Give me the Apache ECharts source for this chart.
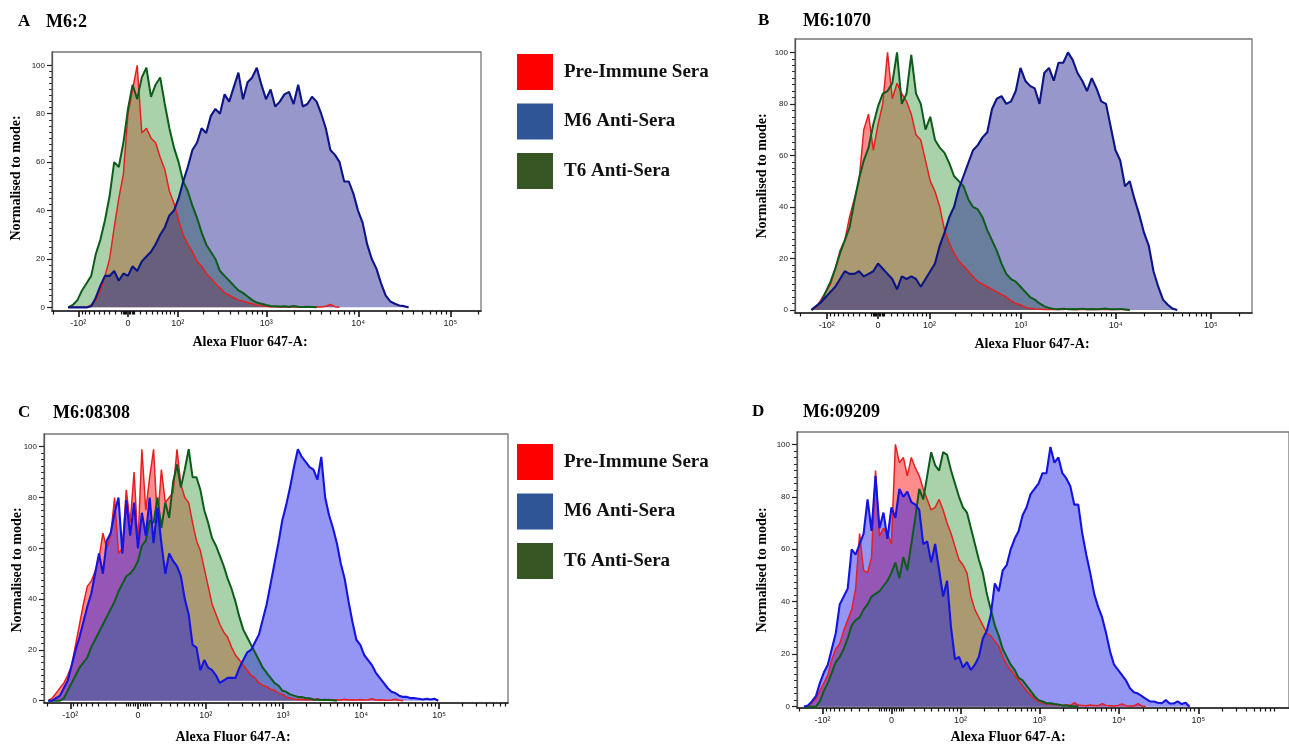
<!DOCTYPE html>
<html><head><meta charset="utf-8">
<script src="https://cdn.jsdelivr.net/npm/echarts@6/dist/echarts.min.js"></script>
<style>html,body{margin:0;padding:0;background:#fff}#chart{width:1289px;height:746px}</style>
</head><body><div id="chart"></div>
<script>
// ---------- data ----------
const SERIES_NAMES = ['Pre-Immune Sera', 'M6 Anti-Sera', 'T6 Anti-Sera'];
const PANEL_LETTERS = ['A', 'B', 'C', 'D'];
const PANEL_TITLES = ['M6:2', 'M6:1070', 'M6:08308', 'M6:09209'];
const X_AXIS_TITLE = 'Alexa Fluor 647-A:';
const Y_AXIS_TITLE = 'Normalised to mode:';
const X_TICK_VALUES = [-100, 0, 100, 1000, 10000, 100000];
const X_TICK_LABELS = ['-10²', '0', '10²', '10³', '10⁴', '10⁵'];
const Y_TICK_VALUES = [0, 20, 40, 60, 80, 100];
// biexponential display width per panel; histogram bins are equally spaced on that display scale
const BIEX_WIDTH = [62.8, 62.8, 27.6, 27.6];
const BIN_STEP = 0.05;
const BIN_START = [-0.65, -0.7, -1.15, -1.1];

const A_PRE = [0,0,0,0,0,1,3,7,13,20,33,45,55,80,90,100,72,74,70,68,62,57,48,43,36,30,26,23,19,17,14,12,10,8,6,5,4,3,2.5,2,1.5,1,0.8,0.5,0.3,0.4,0.2,0.3,0.2,0.3,0.2,0.3,0.2,0.2,0.3,0.2,0.5,1.2,0.3,0];
const A_M6  = [0,0,0,0,0,0.5,4,9,13,13,15,11,14,13,17,15,19,21,23,26,30,33,38,40,45,52,58,65,68,74,72,79,82,80,88,85,91,97,86,93,95,99,92,86,90,83,85,88,89,84,92,83,84,87,85,80,74,65,63,60,52,52,47,40,35,26,20,16,10,5,2.5,1.5,0.8,0.5,0];
const A_T6  = [0,1,3,7,10,13,22,28,36,46,60,58,68,82,92,86,95,99,87,92,95,84,74,66,60,52,48,42,37,31,26,23,20,15,13,11,9,7,6,4.5,3,2,1.5,1,0.6,0.5,0.4,0.5,0.3,0.6,0.3,0.2,0.3,0.2,0];

const B_PRE = [0,1,4,7,10,16,23,27,36,43,50,70,76,62,72,80,100,82,88,84,81,76,68,66,58,50,46,40,31,26,22,19,17,15,13,11,10,9,8,7,6,5,3.5,2.5,2,1,0.6,0.4,0.3,0.2,0.3,0.2,0.3,0.2,0.4,0.2,0.3,0.2,0.2,0.3,0.2,0.2,0.3,0.2,0.2,0.3,0.2,0];
const B_M6  = [0,1.5,3,5,7,9,12,15,14,14,15,13,14,15,18,16,14,12,8,13,12,13,12,9,12,15,18,25,30,36,40,47,52,57,62,64,67,69,78,82,83,80,81,85,94,89,87,86,80,92,94,89,96,96,100,97,92,89,85,90,86,81,80,71,62,58,48,50,43,37,30,25,15,9,4,2,0.5,0];
const B_T6  = [0,1.5,3,7,11,16,22,27,32,42,51,58,63,72,79,84,85,88,100,80,84,99,84,80,70,75,66,63,61,57,52,50,48,43,40,39,36,31,27,23,18,14,12,11,9,7,5,4,2.5,1.5,0.7,0.4,0.3,0.5,0.3,0.4,0.3,0.5,0.3,0.4,0.3,0.4,0.5,0.3,0.3,0.4,0.2,0];

const C_PRE = [0,1,3,5,7,10,14,22,30,38,45,47,51,56,66,60,65,80,58,60,83,70,90,62,99,75,88,99,70,91,78,80,82,99,85,80,78,70,63,59,52,45,38,34,30,27,25,21,18,16,14,12,10,9,7,6,5.5,4.5,4,3,2.5,1.5,1,0.7,0.5,0.6,0.4,0.5,0.3,0.8,0.4,0.3,0.5,0.3,0.4,0.3,0.6,0.3,0.4,0.3,0.5,0.3,0.4,0.8,0.3,0.4,0.3,0.2,0.3,0.6,0.2,0];
const C_M6  = [0,0,1,2,5,8,14,20,25,31,37,42,50,58,50,63,66,74,80,58,79,65,78,60,74,65,80,62,76,62,50,58,55,53,49,40,34,22,21,12,16,13,12,10,7,8,9,9,9,13,16,19,20,23,26,32,38,46,54,62,71,77,84,92,99,96,94,92,91,87,96,80,73,68,62,54,48,39,31,24,22,18,16,14,11,9,7,5,3.5,3,2,1.5,1.5,1,1,0.8,0.5,0.8,0.5,0.8,0];
const C_T6  = [0,0,0,0,1,4,7,10,13,15,17,21,24,27,30,33,36,39,43,46,49,50,52,55,61,63,71,70,80,68,78,72,86,93,84,91,99,88,88,83,75,70,64,61,57,53,48,44,39,33,28,25,22,19,16,13,11,9,7,6,4,3.5,2.5,2,1.5,1.5,1,1,0.5,0.4,0.3,0.4,0.3,0.2,0];

const D_PRE = [0,0,1.5,3,6,9,12,18,22,24,29,33,37,45,66,52,51,57,90,65,68,66,62,100,93,95,88,95,91,88,83,79,75,76,79,75,70,66,61,56,54,51,42,37,34,31,28,27,25,23,19,16,14,12,10,8,6,4.5,3,2,1.5,1,1,0.8,0.6,0.5,0.7,0.5,1.5,0.6,0.5,0.4,0.6,0.5,0.4,1.2,0.5,0.4,0.3,0.5,1,0.4,0.3,0.3,1.2,0.3,0];
const D_M6  = [0,0.5,2,4,9,13,16,22,28,39,42,45,60,58,62,66,79,67,88,68,74,64,76,72,83,80,82,78,77,75,62,63,55,62,52,42,48,30,18,19,15,17,14,16,19,26,29,35,47,44,52,54,60,64,67,73,76,81,83,85,89,89,99,93,95,89,87,84,77,77,66,58,51,43,38,34,28,21,16,14,12,10,7,5.5,5,4,3,2,2,1.5,1.3,2.5,1.2,1.2,2,1,1.5,0];
const D_T6  = [0,0,0,0,2,6,9,13,17,19,22,26,31,33,34,37,39,42,43,44,46,48,51,55,49,57,52,62,72,83,79,88,97,92,90,97,96,90,85,80,76,74,68,62,56,51,43,37,31,27,22,19,16,14,11,10,8,6,4,2.5,2,1.3,1.3,1,0.8,0.5,0.5,0.3,0.2,0];

const PANEL_DATA = [
  [A_PRE, A_M6, A_T6],
  [B_PRE, B_M6, B_T6],
  [C_PRE, C_M6, C_T6],
  [D_PRE, D_M6, D_T6]
];

// ---------- layout & style ----------
const LAYOUT = [
  {left: 52,  top: 52,  width: 429, height: 259, xMin: -0.826, xMax: 3.837, yMin: -1.5, yMax: 105.5,
   letter: [18, 22], title: [46, 22], xName: [250, 342], yName: [16, 178]},
  {left: 795, top: 39,  width: 457, height: 274, xMin: -0.874, xMax: 3.937, yMin: -1.2, yMax: 105.2,
   letter: [758, 21], title: [803, 21], xName: [1032, 344], yName: [762, 176]},
  {left: 44,  top: 434, width: 464, height: 269, xMin: -1.205, xMax: 4.744, yMin: -0.9, yMax: 105.0,
   letter: [18, 413], title: [53, 413], xName: [233, 737], yName: [17, 570]},
  {left: 797, top: 432, width: 495, height: 276, xMin: -1.1875, xMax: 5.0, yMin: -0.5, yMax: 104.7,
   letter: [752, 412], title: [803, 412], xName: [1008, 737], yName: [762, 570]}
];
const LEGEND_POS = [[517, 54], [517, 444]];
const LEGEND_COLORS = ['#ff0000', '#2f5597', '#375623'];

const FILL = {
  pre: 'rgba(255,0,0,0.45)',
  t6: 'rgba(85,165,85,0.5)',
  m6: ['rgba(25,25,140,0.45)', 'rgba(25,25,140,0.45)', 'rgba(20,20,230,0.45)', 'rgba(20,20,230,0.45)']
};
const LINE = {
  pre: '#e62020', t6: '#0d5c1d',
  m6: ['#0c1585', '#0c1585', '#1414e0', '#1414e0']
};

function biex(v, w) { return Math.asinh(v / w) / Math.LN10; }

function minorValues() {
  const vals = [];
  [-1, 1].forEach(s => {
    for (let m = 2; m <= 8; m += 2) vals.push(s * m);
    for (let m = 10; m < 100; m += 10) vals.push(s * m);
  });
  vals.push(-200);
  for (let d = 100; d <= 100000; d *= 10) for (let m = 2; m <= 9; m++) vals.push(m * d);
  return vals;
}

const SERIF = '"Liberation Serif", "Times New Roman", serif';
const SANS = '"Liberation Sans", "DejaVu Sans", Arial, sans-serif';

const grids = [], xAxes = [], yAxes = [], series = [], graphics = [];

LAYOUT.forEach((L, p) => {
  const w = BIEX_WIDTH[p];
  grids.push({left: L.left, top: L.top, width: L.width, height: L.height, show: true,
    borderColor: '#777', borderWidth: 1.3, containLabel: false});
  const inX = t => t >= L.xMin && t <= L.xMax;
  const majorT = X_TICK_VALUES.map(v => biex(v, w));
  const minorT = minorValues().map(v => biex(v, w)).filter(inX);
  xAxes.push({
    type: 'value', gridIndex: p, position: 'bottom', min: L.xMin, max: L.xMax,
    axisLine: {show: true, onZero: false, lineStyle: {color: '#222', width: 1.6}},
    splitLine: {show: false},
    axisTick: {show: true, customValues: majorT.filter(inX), length: 6, lineStyle: {color: '#111', width: 1.6}},
    axisLabel: {show: true, customValues: majorT.filter(inX), margin: 8, fontSize: 9, color: '#222', fontFamily: SANS,
      formatter: val => {
        let best = 0, bd = Infinity;
        majorT.forEach((t, i) => { const d = Math.abs(t - val); if (d < bd) { bd = d; best = i; } });
        return X_TICK_LABELS[best];
      }}
  });
  xAxes.push({
    type: 'value', gridIndex: p, position: 'bottom', offset: 0, min: L.xMin, max: L.xMax,
    axisLine: {show: false, onZero: false}, splitLine: {show: false}, axisLabel: {show: false},
    axisTick: {show: true, customValues: minorT, length: 3.5, lineStyle: {color: '#111', width: 1.2}}
  });
  const inY = v => v >= L.yMin && v <= L.yMax;
  yAxes.push({
    type: 'value', gridIndex: p, position: 'left', min: L.yMin, max: L.yMax,
    axisLine: {show: true, onZero: false, lineStyle: {color: '#555', width: 1.3}},
    splitLine: {show: false},
    axisTick: {show: true, customValues: Y_TICK_VALUES, length: 5, lineStyle: {color: '#222', width: 1.2}},
    axisLabel: {show: true, customValues: Y_TICK_VALUES, margin: 7, fontSize: 8, color: '#222', fontFamily: SANS}
  });
  const yMinor = [];
  for (let v = 2.5; v < 100; v += 2.5) if (v % 20 !== 0 && inY(v)) yMinor.push(v);
  yAxes.push({
    type: 'value', gridIndex: p, position: 'left', offset: 0, min: L.yMin, max: L.yMax,
    axisLine: {show: false, onZero: false}, splitLine: {show: false}, axisLabel: {show: false},
    axisTick: {show: true, customValues: yMinor, length: 3, lineStyle: {color: '#333', width: 1}}
  });

  const [pre, m6, t6] = PANEL_DATA[p];
  const pts = arr => arr.map((v, i) => [BIN_START[p] + i * BIN_STEP, v]);
  const common = {type: 'line', xAxisIndex: 2 * p, yAxisIndex: 2 * p, showSymbol: false, symbol: 'none',
    animation: false, silent: true, clip: true};
  series.push(Object.assign({}, common, {name: SERIES_NAMES[0], data: pts(pre), color: LEGEND_COLORS[0],
    lineStyle: {color: LINE.pre, width: 1.5}, areaStyle: {color: FILL.pre, opacity: 1}}));
  series.push(Object.assign({}, common, {name: SERIES_NAMES[2], data: pts(t6), color: LEGEND_COLORS[2],
    lineStyle: {color: LINE.t6, width: 2}, areaStyle: {color: FILL.t6, opacity: 1}}));
  series.push(Object.assign({}, common, {name: SERIES_NAMES[1], data: pts(m6), color: LEGEND_COLORS[1],
    lineStyle: {color: LINE.m6[p], width: 2.1}, areaStyle: {color: FILL.m6[p], opacity: 1}}));

  graphics.push({type: 'text', x: L.letter[0], y: L.letter[1],
    style: {text: PANEL_LETTERS[p], font: 'bold 17px ' + SERIF, fill: '#000', textAlign: 'left', textVerticalAlign: 'middle', align: 'left', verticalAlign: 'middle'}});
  graphics.push({type: 'text', x: L.title[0], y: L.title[1],
    style: {text: PANEL_TITLES[p], font: 'bold 18px ' + SERIF, fill: '#000', textAlign: 'left', textVerticalAlign: 'middle', align: 'left', verticalAlign: 'middle'}});
  graphics.push({type: 'text', x: L.xName[0], y: L.xName[1],
    style: {text: X_AXIS_TITLE, font: 'bold 14px ' + SERIF, fill: '#000', textAlign: 'center', textVerticalAlign: 'middle', align: 'center', verticalAlign: 'middle'}});
  graphics.push({type: 'text', x: L.yName[0], y: L.yName[1], rotation: Math.PI / 2,
    style: {text: Y_AXIS_TITLE, font: 'bold 14px ' + SERIF, fill: '#000', textAlign: 'center', textVerticalAlign: 'middle', align: 'center', verticalAlign: 'middle'}});
});

const legendOrder = [0, 1, 2];
const legends = LEGEND_POS.map(pos => ({
  left: pos[0], top: pos[1], padding: 0, orient: 'vertical', icon: 'rect', itemWidth: 36, itemHeight: 36, itemGap: 13.5,
  selectedMode: false,
  textStyle: {fontFamily: SERIF, fontWeight: 'bold', fontSize: 19, color: '#111', padding: [0, 0, 0, 6]},
  data: legendOrder.map(i => ({name: SERIES_NAMES[i], itemStyle: {color: LEGEND_COLORS[i], borderWidth: 0, opacity: 1}}))
}));

const chart = echarts.init(document.getElementById('chart'), null, {renderer: 'canvas'});
chart.setOption({
  backgroundColor: '#ffffff',
  animation: false,
  grid: grids,
  xAxis: xAxes,
  yAxis: yAxes,
  legend: legends,
  series: series,
  graphic: graphics
});
</script></body></html>
